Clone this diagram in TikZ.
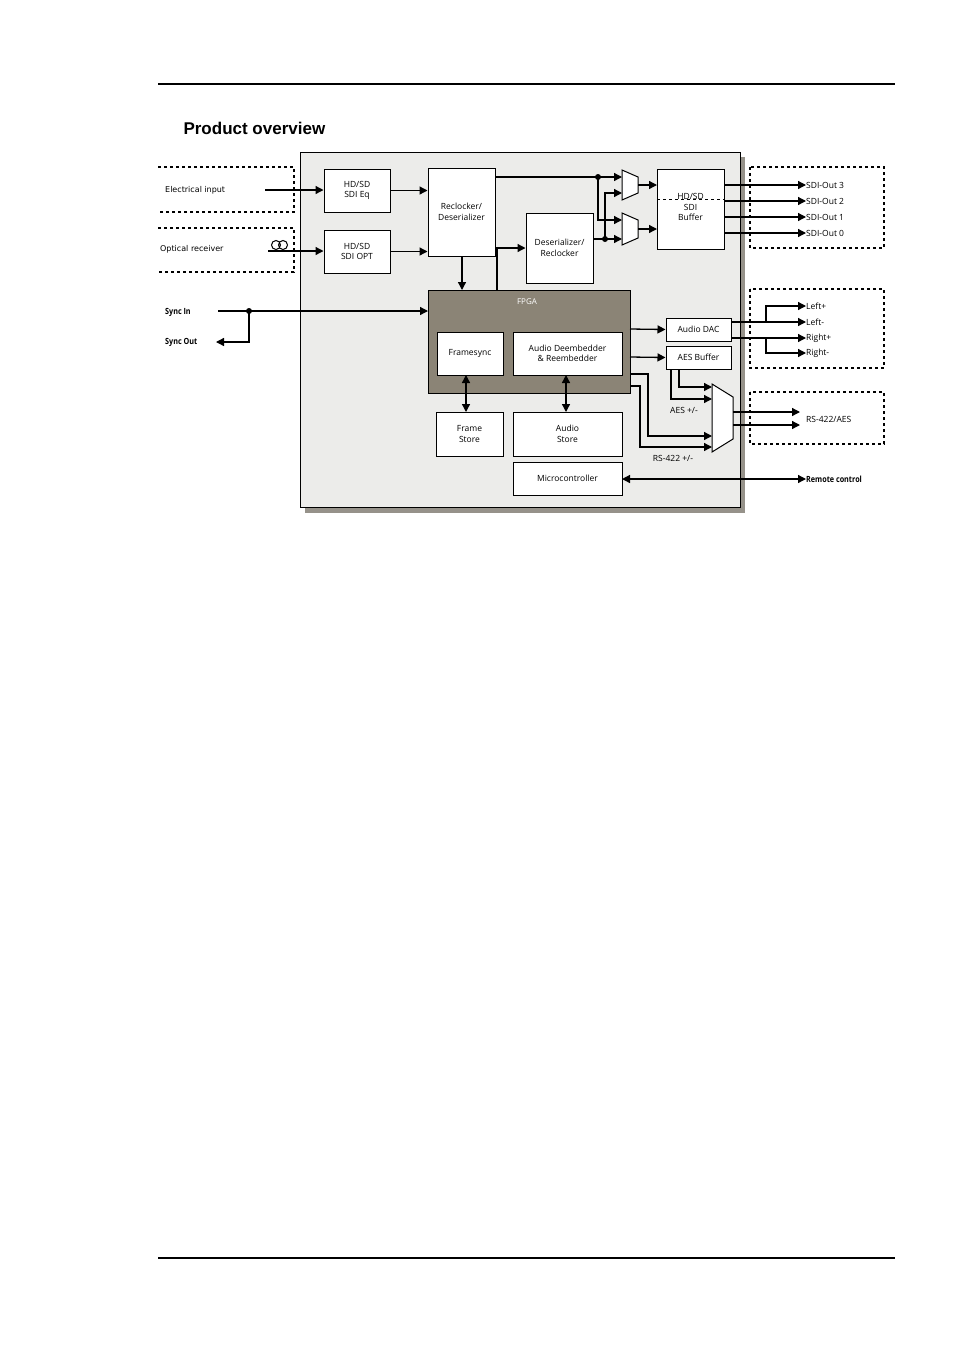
\documentclass[tikz,border=0pt]{standalone}
\usepackage{fontspec}
\setmainfont{Open Sans}
\newfontfamily\titlefont{Liberation Sans}
\newfontfamily\labelfont{DejaVu Sans}
\usetikzlibrary{arrows.meta}
\definecolor{panelgray}{RGB}{236,236,234}
\definecolor{shadowgray}{RGB}{150,146,138}
\definecolor{fpgagray}{RGB}{139,132,118}
\tikzstyle{block}=[fill=white, draw=black, line width=1pt, inner sep=0pt, align=center, font=\fontsize{8.5}{10.5}\selectfont]
\tikzstyle{port}=[draw=black, dashed, line width=1.3pt]
\tikzstyle{none}=[inner sep=0pt, anchor=west, font=\fontsize{8.5}{10}\selectfont]
\tikzstyle{wire}=[draw=black, line width=1.3pt, -{Triangle[length=8pt,width=8pt]}]
\tikzstyle{dwire}=[draw=black, line width=1.3pt, {Triangle[length=8pt,width=8pt]}-{Triangle[length=8pt,width=8pt]}]
\tikzstyle{line}=[draw=black, line width=1.3pt]
\tikzstyle{dot}=[fill=black, circle, inner sep=0pt, minimum size=6pt]
\begin{document}
\begin{tikzpicture}[x=1pt, y=-1pt]
	\useasboundingbox (0,0) rectangle (954,1350);
	% page frame
	\draw [line width=1.5pt] (158,84) -- (895,84);
	\draw [line width=1.5pt] (158,1258) -- (895,1258);
	\node [anchor=west, font=\titlefont\bfseries\fontsize{17}{20}\selectfont] (title) at (180,128) {Product overview};
	% panel
	\fill [shadowgray] (305,157) rectangle (745,513);
	\draw [fill=panelgray, line width=0.8pt] (300,152) rectangle (740,507);
	% outside ports
	\draw [style=port] (158,167) -- (294,167) -- (294,212) -- (158,212);
	\draw [style=port] (158,228) -- (294,228) -- (294,272) -- (158,272);
	\draw [style=port] (750,167) rectangle (884,248);
	\draw [style=port] (750,289) rectangle (884,368);
	\draw [style=port] (750,392) rectangle (884,444);
	% blocks
	\node [style=block, minimum width=66pt, minimum height=43pt] (eq) at (357,190.5) {HD/SD\\SDI Eq};
	\node [style=block, minimum width=66pt, minimum height=43pt] (opt) at (357,251.5) {HD/SD\\SDI OPT};
	\node [style=block, minimum width=67pt, minimum height=88pt] (recl) at (461.5,212) {Reclocker/\\Deserializer};
	\node [style=block, minimum width=67pt, minimum height=70pt] (deser) at (559.5,248) {Deserializer/\\Reclocker};
	\node [style=block, fill=fpgagray, minimum width=202pt, minimum height=103pt] (fpga) at (529,341.5) {};
	\node [text=white, font=\fontsize{8}{10}\selectfont] (fpgalabel) at (527,302) {FPGA};
	\node [style=block, minimum width=66pt, minimum height=43pt] (fsync) at (470,353.5) {Framesync};
	\node [style=block, minimum width=109pt, minimum height=43pt] (deemb) at (567.5,353.5) {Audio Deembedder\\\& Reembedder};
	\node [style=block, minimum width=67pt, minimum height=44pt] (fstore) at (469.5,434) {Frame\\Store};
	\node [style=block, minimum width=109pt, minimum height=44pt] (astore) at (567.5,434) {Audio\\Store};
	\node [style=block, minimum width=109pt, minimum height=33pt] (micro) at (567.5,478.5) {Microcontroller};
	\node [style=block, minimum width=67pt, minimum height=80pt] (buf) at (690.5,209) {};
	\draw [dashed, line width=0.8pt] (657,199) -- (724,199);
	\node [font=\fontsize{8.5}{10.5}\selectfont, align=center] (buflabel) at (690.5,207) {HD/SD\\SDI\\Buffer};
	\node [style=block, minimum width=65pt, minimum height=23pt] (dac) at (698.5,329.5) {Audio DAC};
	\node [style=block, minimum width=65pt, minimum height=23pt] (aes) at (698.5,357.5) {AES Buffer};
	% muxes
	\draw [fill=white, line width=1pt] (622,170) -- (638,177) -- (638,193) -- (622,200) -- cycle;
	\draw [fill=white, line width=1pt] (622,213) -- (638,220) -- (638,238) -- (622,245) -- cycle;
	\draw [fill=white, line width=1pt] (712,384) -- (733,397) -- (733,439) -- (712,452) -- cycle;
	% coordinates
	\coordinate (ein) at (265,190);
	\coordinate (oin) at (268,251);
	\coordinate (d1) at (598,177);
	\coordinate (d2) at (605,239);
	\coordinate (m1a) at (622,177);
	\coordinate (m1b) at (622,193);
	\coordinate (m2a) at (622,220);
	\coordinate (m2b) at (622,239);
	\coordinate (ds) at (249,311);
	% texts
	\node [style=none, font=\labelfont\fontsize{8}{10}\selectfont] (elec) at (165,190) {Electrical input};
	\node [style=none, font=\labelfont\fontsize{8}{10}\selectfont] (optr) at (160,249) {Optical receiver};
	\draw [line width=1pt] (276,245) circle (4.5pt) (283,245) circle (4.5pt);
	\node [style=none, font=\bfseries\fontsize{8.5}{10}\selectfont, xscale=0.85] (syncin) at (165,312) {Sync In};
	\node [style=none, font=\bfseries\fontsize{8.5}{10}\selectfont, xscale=0.85] (syncout) at (165,342) {Sync Out};
	\node [style=none, font=\bfseries\fontsize{8.5}{10}\selectfont, xscale=0.85] (remote) at (806,479) {Remote control};
	\foreach \n/\y in {3/185,2/201,1/217,0/233} {
		\node [style=none] (sdi\n) at (806,\y) {SDI-Out \n};
		\draw [style=wire] (724,\y) -- (sdi\n.west);
	}
	\node [style=none] (lp) at (806,306) {Left+};
	\node [style=none] (lm) at (806,322) {Left-};
	\node [style=none] (rp) at (806,338) {Right+};
	\node [style=none] (rm) at (806,353) {Right-};
	\node [style=none] (rs) at (806,419) {RS-422/AES};
	\node [font=\fontsize{8.5}{10}\selectfont] (aeslabel) at (684,410) {AES +/-};
	\node [font=\fontsize{8.5}{10}\selectfont] (rslabel) at (673,458) {RS-422 +/-};
	% connections
	\draw [style=wire] (ein) -- (eq.west |- ein);
	\draw [style=wire] (oin) -- (opt.west |- oin);
	\draw [style=wire] (eq) -- (recl.west |- eq);
	\draw [style=wire] (opt) -- (recl.west |- opt);
	\draw [style=wire] (462,256) -- (462,290);
	\draw [style=wire] (497,290) -- (497,248) -- (deser.west |- 0,248);
	\draw [style=line] (495,177) -- (d1);
	\draw [style=wire] (d1) -- (m1a);
	\draw [style=wire] (d1) -- (598,220) -- (m2a);
	\draw [style=line] (593,239) -- (d2);
	\draw [style=wire] (d2) -- (m2b);
	\draw [style=wire] (d2) -- (605,193) -- (m1b);
	\node [style=dot] (dot1) at (d1) {};
	\node [style=dot] (dot2) at (d2) {};
	\draw [style=wire] (638,185) -- (657,185);
	\draw [style=wire] (638,229) -- (657,229);
	\draw [style=wire] (ds) -- (428,311);
	\draw [style=line] (218,311) -- (ds);
	\draw [style=wire] (ds) -- (249,342) -- (216,342);
	\node [style=dot] (dot3) at (ds) {};
	\draw [style=dwire] (466,375) -- (466,412);
	\draw [style=dwire] (566,375) -- (566,412);
	\draw [style=dwire] (622,479) -- (remote.west);
	\draw [style=wire] (630,329) -- (dac.west);
	\draw [style=wire] (630,357) -- (aes.west);
	\draw [style=wire] (731,322) -- (lm.west);
	\draw [style=wire] (766,322) -- (766,306) -- (lp.west);
	\draw [style=wire] (731,338) -- (rp.west);
	\draw [style=wire] (766,338) -- (766,353) -- (rm.west);
	\draw [style=wire] (679,369) -- (679,387) -- (712,387);
	\draw [style=wire] (671,369) -- (671,399) -- (712,399);
	\draw [style=wire] (630,374) -- (648,374) -- (648,436) -- (712,436);
	\draw [style=wire] (630,386) -- (640,386) -- (640,447) -- (712,447);
	\draw [style=wire] (733,412) -- (800,412);
	\draw [style=wire] (733,425) -- (800,425);
\end{tikzpicture}
\end{document}
